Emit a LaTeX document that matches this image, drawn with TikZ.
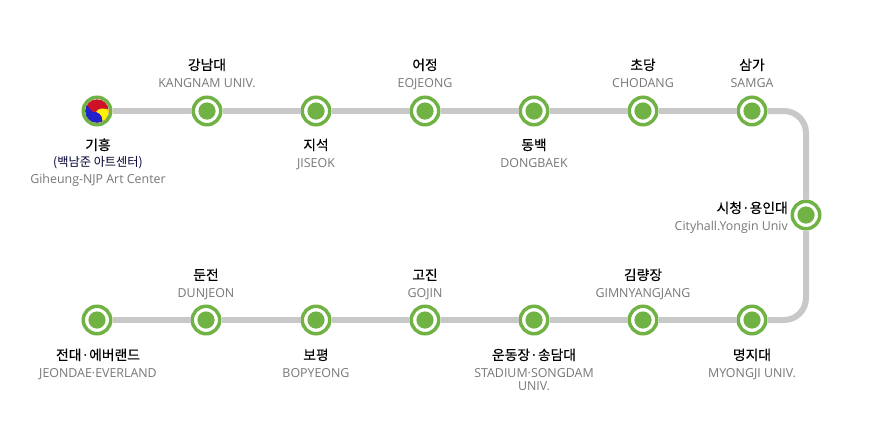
\documentclass[tikz,border=0pt]{standalone}
\usepackage{fontspec}
\setmainfont{Noto Sans CJK KR}
\newfontfamily\kofont[FakeBold=0.35]{Noto Sans CJK KR}
\newfontfamily\latinfont{Open Sans}
\definecolor{linegreen}{HTML}{70B244}
\definecolor{trackgray}{HTML}{C8C8C8}
\definecolor{subgray}{HTML}{777777}
\definecolor{tgred}{HTML}{CE1126}
\definecolor{tgblue}{HTML}{2222CC}
\definecolor{tgyellow}{HTML}{FFF200}
\tikzset{
  stn/.style={circle,draw=linegreen,line width=3.5pt,fill=white,minimum size=27.5pt,inner sep=0pt,
    path picture={\fill[linegreen] (path picture bounding box.center) circle (8.6pt);}},
  hub/.style={circle,draw=linegreen,line width=3.5pt,fill=white,minimum size=27.5pt,inner sep=0pt},
  track/.style={draw=trackgray,line width=6pt},
  ko/.style={anchor=base,inner sep=0pt,font=\kofont\fontsize{13.8}{15}\selectfont,text=black},
  koplain/.style={anchor=base,inner sep=0pt,font=\fontsize{12.2}{13}\selectfont,text=black!80!blue},
  en/.style={anchor=base,inner sep=0pt,font=\latinfont\fontsize{12.4}{14}\selectfont,text=subgray},
}
\begin{document}
\begin{tikzpicture}[x=1pt,y=-1pt]
\useasboundingbox (0,0) rectangle (880,432);
% stations
\node[hub] (s1) at (97,111) {};
\node[stn] (s2) at (207,111) {};
\node[stn] (s3) at (316,111) {};
\node[stn] (s4) at (425,111) {};
\node[stn] (s5) at (534,111) {};
\node[stn] (s6) at (643,111) {};
\node[stn] (s7) at (752,111) {};
\node[stn] (s8) at (806,215) {};
\node[stn] (s9) at (752,320) {};
\node[stn] (s10) at (643,320) {};
\node[stn] (s11) at (534,320) {};
\node[stn] (s12) at (425,320) {};
\node[stn] (s13) at (316,320) {};
\node[stn] (s14) at (206,320) {};
\node[stn] (s15) at (97,320) {};
% track
\draw[track] (s1) -- (s2);
\draw[track] (s2) -- (s3);
\draw[track] (s3) -- (s4);
\draw[track] (s4) -- (s5);
\draw[track] (s5) -- (s6);
\draw[track] (s6) -- (s7);
\draw[track,rounded corners=22pt] (s7) -| (s8);
\draw[track,rounded corners=22pt] (s8) |- (s9);
\draw[track] (s9) -- (s10);
\draw[track] (s10) -- (s11);
\draw[track] (s11) -- (s12);
\draw[track] (s12) -- (s13);
\draw[track] (s13) -- (s14);
\draw[track] (s14) -- (s15);
% taegeuk symbol
\begin{scope}[shift={(s1.center)}]
  \clip (0,0) circle (11.7pt);
  \fill[tgred] (-14,-14) rectangle (14,14);
  \fill[tgyellow] (-1,1) .. controls (1,-3) and (7,-4) .. (14,0) -- (14,14) -- (5,14) .. controls (6,8) and (5,3) .. (-1,1) -- cycle;
  \fill[tgblue] (-1,1) .. controls (5,3) and (6,8) .. (5,14) -- (-14,14) -- (-14,-7) .. controls (-9,-6) and (-7,-1) .. (-4,1) .. controls (-3,1.6) and (-2,1.5) .. (-1,1) -- cycle;
\end{scope}
% labels
\node[ko] (k1) at (98,150) {기흥};
\node[koplain] (k1b) at (98,166) {(백남준 아트센터)};
\node[en] (e1) at (98,183) {Giheung-NJP Art Center};
\node[ko] (k2) at (207,70) {강남대};
\node[en] (e2) at (207,87) {KANGNAM UNIV.};
\node[ko] (k3) at (316,150) {지석};
\node[en] (e3) at (316,167) {JISEOK};
\node[ko] (k4) at (425,70) {어정};
\node[en] (e4) at (425,87) {EOJEONG};
\node[ko] (k5) at (534,150) {동백};
\node[en] (e5) at (534,167) {DONGBAEK};
\node[ko] (k6) at (643,70) {초당};
\node[en] (e6) at (643,87) {CHODANG};
\node[ko] (k7) at (752,70) {삼가};
\node[en] (e7) at (752,87) {SAMGA};
\node[ko,anchor=base east] (k8) at (788,213) {시청·용인대};
\node[en,anchor=base east] (e8) at (788,230) {Cityhall.Yongin Univ};
\node[ko] (k9) at (752,360) {명지대};
\node[en] (e9) at (752,377) {MYONGJI UNIV.};
\node[ko] (k10) at (643,280) {김량장};
\node[en] (e10) at (643,297) {GIMNYANGJANG};
\node[ko] (k11) at (534,360) {운동장·송담대};
\node[en] (e11) at (534,377) {STADIUM·SONGDAM};
\node[en] (e11b) at (534,390) {UNIV.};
\node[ko] (k12) at (425,280) {고진};
\node[en] (e12) at (425,297) {GOJIN};
\node[ko] (k13) at (316,360) {보평};
\node[en] (e13) at (316,377) {BOPYEONG};
\node[ko] (k14) at (206,280) {둔전};
\node[en] (e14) at (206,297) {DUNJEON};
\node[ko] (k15) at (98,360) {전대·에버랜드};
\node[en] (e15) at (98,377) {JEONDAE·EVERLAND};
\end{tikzpicture}
\end{document}
